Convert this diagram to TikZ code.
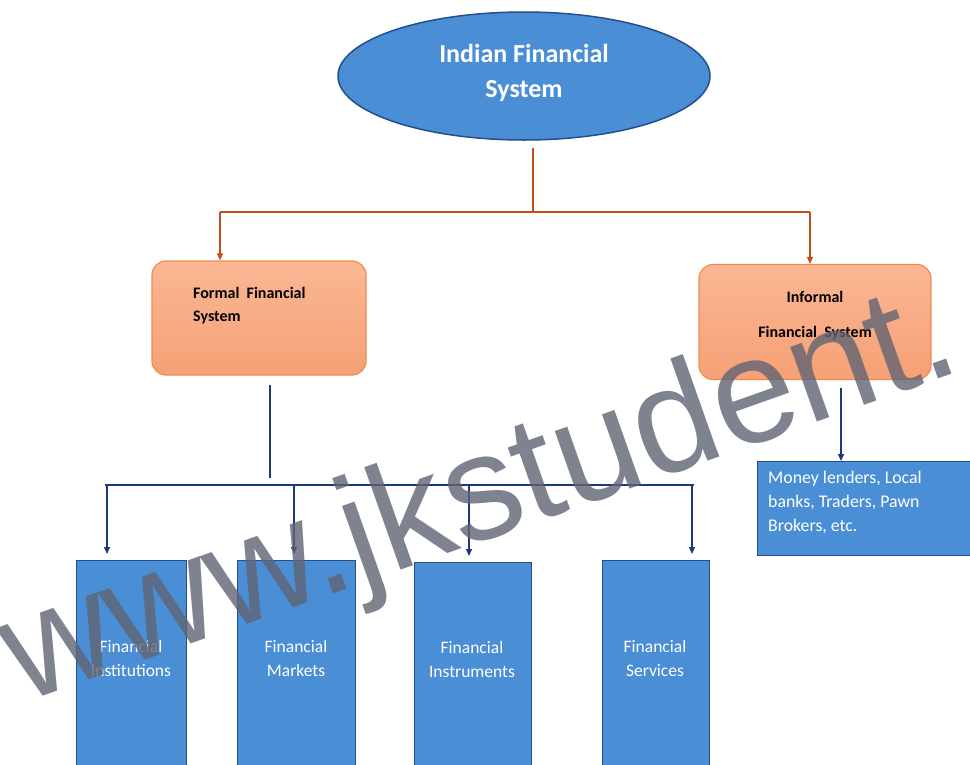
\documentclass[tikz,border=0pt]{standalone}
\usepackage{fontspec}
\setmainfont{Carlito}
\newfontfamily\wmfont{Liberation Sans}
\usetikzlibrary{shapes.geometric,arrows.meta}
\definecolor{boxblue}{RGB}{74,142,213}
\definecolor{bordblue}{RGB}{36,78,140}
\definecolor{navy}{RGB}{28,58,120}
\definecolor{orfill}{RGB}{250,183,148}
\definecolor{orfilldk}{RGB}{246,160,118}
\definecolor{orbord}{RGB}{240,140,80}
\definecolor{orline}{RGB}{196,80,24}
\definecolor{wmgray}{RGB}{96,100,115}
\tikzset{
  bluebox/.style={draw=bordblue,fill=boxblue,line width=1.3pt,inner sep=0pt},
  orbox/.style={draw=orbord,top color=orfill,bottom color=orfilldk,line width=1.2pt,rounded corners=14pt,inner sep=0pt},
  whitetxt/.style={text=white,align=center,inner sep=0pt},
  oarrow/.style={draw=orline,line width=1.4pt,-{Triangle[length=7pt,width=6pt]}},
  oline/.style={draw=orline,line width=1.4pt},
  narrow/.style={draw=navy,line width=1.4pt,-{Triangle[length=7pt,width=6pt]}},
  nline/.style={draw=navy,line width=1.4pt},
}
\begin{document}
\begin{tikzpicture}[x=1pt,y=-1pt]
\useasboundingbox (0,0) rectangle (970,764);
\clip (0,0) rectangle (970,764);
\fill[white] (0,0) rectangle (970,764);
% root
\node[ellipse,draw=bordblue,fill=boxblue,line width=1.5pt,minimum width=372pt,minimum height=128pt,inner sep=0pt] (root) at (524,76) {};
\node[whitetxt,font=\bfseries\fontsize{26}{35}\selectfont] (roottxt) at (524,73) {Indian Financial\\System};
% level 2
\node[orbox,minimum width=214pt,minimum height=114pt] (formal) at (259,318) {};
\node[align=left,inner sep=0pt,anchor=north west,font=\bfseries\fontsize{16}{23}\selectfont] (formaltxt) at (193,287) {Formal\ \ Financial\\System};
\node[orbox,minimum width=232pt,minimum height=115pt] (informal) at (815,322) {};
\node[align=center,inner sep=0pt,font=\bfseries\fontsize{16}{35}\selectfont] (informaltxt) at (815,316) {Informal\\Financial\ \ System};
% connectors level 1
\coordinate (rtop) at (533,148);
\coordinate (rj) at (533,212);
\coordinate (lj) at (220,212);
\coordinate (rj2) at (810,212);
\draw[oline] (rtop) -- (rj);
\draw[oline] (lj) -- (rj2);
\draw[oarrow] (lj) -- (formal.north -| lj);
\draw[oarrow] (rj2) -- (informal.north -| rj2);
% money box
\node[bluebox,minimum width=230pt,minimum height=94pt,anchor=north west] (money) at (757,461) {};
\node[whitetxt,align=left,anchor=north west,font=\fontsize{17.8}{24}\selectfont] (moneytxt) at (768,471) {Money lenders, Local\\banks, Traders, Pawn\\Brokers, etc.};
\coordinate (inb) at (841,388);
\draw[narrow] (inb) -- (money.north -| inb);
% bottom boxes
\node[bluebox,minimum width=110pt,minimum height=230pt,anchor=north west] (inst) at (76,560) {};
\node[bluebox,minimum width=118pt,minimum height=230pt,anchor=north west] (mark) at (237,560) {};
\node[bluebox,minimum width=117pt,minimum height=230pt,anchor=north west] (instr) at (414,562) {};
\node[bluebox,minimum width=107pt,minimum height=230pt,anchor=north west] (serv) at (602,560) {};
\node[whitetxt,font=\fontsize{17.5}{24}\selectfont] (insttxt) at (131,658) {Financial\\Institutions};
\node[whitetxt,font=\fontsize{17.5}{24}\selectfont] (marktxt) at (296,658) {Financial\\Markets};
\node[whitetxt,font=\fontsize{17.5}{24}\selectfont] (instrtxt) at (472,659) {Financial\\Instruments};
\node[whitetxt,font=\fontsize{17.5}{24}\selectfont] (servtxt) at (655,658) {Financial\\Services};
% connectors level 3
\coordinate (fb) at (270,385);
\coordinate (fj) at (270,478);
\coordinate (hl) at (105,485);
\coordinate (hr) at (694,485);
\draw[nline] (fb) -- (fj);
\draw[nline] (hl) -- (hr);
\coordinate (a1) at (107,485);
\coordinate (a2) at (294,485);
\coordinate (a3) at (469,485);
\coordinate (a4) at (692,485);
\draw[narrow,shorten >=6pt] (a1) -- (inst.north -| a1);
\draw[narrow,shorten >=6pt] (a2) -- (mark.north -| a2);
\draw[narrow,shorten >=6pt] (a3) -- (instr.north -| a3);
\draw[narrow,shorten >=6pt] (a4) -- (serv.north -| a4);
% watermark
\node[text=wmgray,text opacity=0.8,inner sep=0pt,anchor=base west,rotate=19.5,font=\wmfont\fontsize{150}{150}\selectfont] (wm) at (22,704) {www.jkstudent.};
\end{tikzpicture}
\end{document}
